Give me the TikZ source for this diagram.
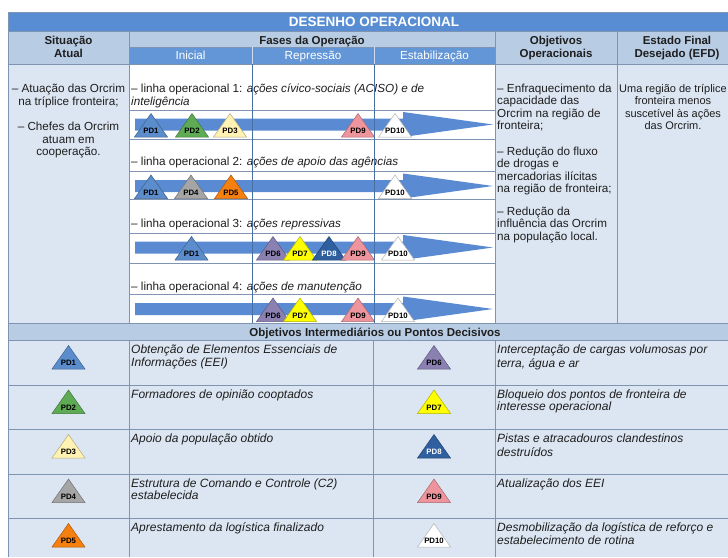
\documentclass[tikz,border=0pt]{standalone}
\usepackage{fontspec}
\setmainfont{Liberation Sans}
\definecolor{titleblue}{HTML}{588DD4}
\definecolor{phaseblue}{HTML}{6396D7}
\definecolor{headblue}{HTML}{B8CCE4}
\definecolor{bodyblue}{HTML}{DCE6F2}
\definecolor{gridc}{HTML}{7F93B3}
\definecolor{barblue}{HTML}{5A8BD2}
\definecolor{textc}{HTML}{1E1E1E}
\definecolor{pdA}{HTML}{5B8CCB}
\definecolor{pdB}{HTML}{5EAA55}
\definecolor{pdC}{HTML}{FFF2B3}
\definecolor{pdD}{HTML}{A5A5A5}
\definecolor{pdE}{HTML}{F57F0F}
\definecolor{pdF}{HTML}{8A80B2}
\definecolor{pdG}{HTML}{FFFF00}
\definecolor{pdH}{HTML}{2F5F9F}
\definecolor{pdI}{HTML}{ED949D}
\definecolor{pdJ}{HTML}{FFFFFF}
% #1 name, #2 x of apex, #3 y of base, #4 fill colour, #5 label, #6 label colour
\newcommand\pdmark[6]{%
  \draw[fill=#4, draw=#4!70!black, line width=0.5pt] (#2-16.5,#3) -- (#2,#3-23.5) -- (#2+16.5,#3) -- cycle;
  \node[pdlabel, text=#6] (#1) at (#2,#3-6) {#5};
}
% #1 centre y of bar
\newcommand\opbar[1]{%
  \fill[barblue] (135,#1-6) -- (403,#1-6) -- (403,#1-12.5) -- (493,#1) -- (403,#1+12.5) -- (403,#1+6) -- (135,#1+6) -- cycle;
}
\begin{document}
\begin{tikzpicture}[x=1pt,y=-1pt,
  grid/.style={draw=gridc, line width=0.8pt},
  bt/.style={font=\fontsize{11.7}{12.5}\selectfont, text=textc, inner sep=0pt},
  it/.style={font=\fontsize{12}{12.5}\selectfont\itshape, text=textc, inner sep=0pt},
  hd/.style={font=\bfseries\fontsize{11.5}{13}\selectfont, text=textc, inner sep=0pt, align=center},
  pdlabel/.style={font=\bfseries\fontsize{7.8}{8}\selectfont, inner sep=0pt},
]
\useasboundingbox (0,0) rectangle (728,557);
\clip (0,0) rectangle (728,557);
% backgrounds
\fill[titleblue] (8,12) rectangle (740,31);
\fill[headblue] (8,31) rectangle (740,64);
\fill[phaseblue] (129,47) rectangle (495,64);
\fill[bodyblue] (8,64) rectangle (129,323);
\fill[white] (129,64) rectangle (495,323);
\fill[bodyblue] (495,64) rectangle (740,323);
\fill[headblue] (8,323) rectangle (740,340);
\fill[bodyblue] (8,340) rectangle (740,557);
% grid
\draw[grid] (8,12) -- (740,12);
\draw[grid] (8,31) -- (740,31);
\draw[grid] (129,47) -- (495,47);
\draw[grid] (8,64) -- (740,64);
\foreach \yy in {110,139,171,199,233,263,294} \draw[grid] (129,\yy) -- (495,\yy);
\draw[grid] (8,323) -- (740,323);
\draw[grid] (8,340) -- (740,340);
\foreach \yy in {385,429.5,474,518.5} \draw[grid] (8,\yy) -- (740,\yy);
\draw[grid] (8,12) -- (8,557);
\draw[grid] (129,31) -- (129,323);
\draw[grid] (495,31) -- (495,323);
\draw[grid] (617,31) -- (617,323);
\draw[grid] (129,340) -- (129,557);
\draw[grid] (373,340) -- (373,557);
\draw[grid] (495,340) -- (495,557);
\draw[draw=headblue!70!white, line width=0.6pt] (252,47) -- (252,64) (374,47) -- (374,64);
% headers
\node[font=\bfseries\fontsize{13.5}{15}\selectfont, text=white, inner sep=0pt, anchor=base] (title) at (374,26.5) {DESENHO OPERACIONAL};
\node[hd, anchor=north] (hsit) at (68.5,44-9.1) {\strut Situação\\Atual};
\node[hd, anchor=base] (hfases) at (312,44) {Fases da Operação};
\node[hd, anchor=north] (hobj) at (556,44-9.1) {\strut Objetivos\\Operacionais};
\node[hd, anchor=north] (hefd) at (677,44-9.1) {\strut Estado Final\\Desejado (EFD)};
\node[bt, text=white, anchor=base] (ph1) at (190.5,59) {Inicial};
\node[bt, text=white, anchor=base] (ph2) at (313,59) {Repressão};
\node[bt, text=white, anchor=base] (ph3) at (434.5,59) {Estabilização};
% situacao atual
\node[bt, align=center, anchor=north] (sit1) at (68.5,92.5-8.75) {\strut – Atuação das Orcrim\\na tríplice fronteira;};
\node[bt, align=center, anchor=north] (sit2) at (68.5,130.5-8.75) {\strut – Chefes da Orcrim\\atuam em\\cooperação.};
% linhas operacionais
\node[bt, align=left, anchor=north west] (l1) at (131,92.5-8.75) {\strut – linha operacional 1: \textit{ações cívico-sociais (ACISO) e de}\\\textit{inteligência}};
\node[bt, anchor=base west] (l2) at (131,165) {– linha operacional 2: \textit{ações de apoio das agências}};
\node[bt, anchor=base west] (l3) at (131,227) {– linha operacional 3: \textit{ações repressivas}};
\node[bt, anchor=base west] (l4) at (131,290) {– linha operacional 4: \textit{ações de manutenção}};
% bars
\opbar{124.5}
\opbar{186}
\opbar{247.5}
\opbar{309}
% decisive points on the bars
\pdmark{a1}{151}{137}{pdA}{PD1}{black}
\pdmark{a2}{192}{137}{pdB}{PD2}{black}
\pdmark{a3}{230}{137}{pdC}{PD3}{black}
\pdmark{a9}{358}{137}{pdI}{PD9}{black}
\pdmark{a10}{395}{137}{pdJ}{PD10}{black}
\pdmark{b1}{151}{198.5}{pdA}{PD1}{black}
\pdmark{b4}{191}{198.5}{pdD}{PD4}{black}
\pdmark{b5}{231}{198.5}{pdE}{PD5}{black}
\pdmark{b10}{395}{198.5}{pdJ}{PD10}{black}
\pdmark{c1}{191.5}{260}{pdA}{PD1}{black}
\pdmark{c6}{273}{260}{pdF}{PD6}{black}
\pdmark{c7}{300}{260}{pdG}{PD7}{black}
\pdmark{c8}{329}{260}{pdH}{PD8}{white}
\pdmark{c9}{358}{260}{pdI}{PD9}{black}
\pdmark{c10}{398}{260}{pdJ}{PD10}{black}
\pdmark{d6}{273}{321.5}{pdF}{PD6}{black}
\pdmark{d7}{300}{321.5}{pdG}{PD7}{black}
\pdmark{d9}{358}{321.5}{pdI}{PD9}{black}
\pdmark{d10}{398}{321.5}{pdJ}{PD10}{black}
% phase separators over the bars
\draw[draw=pdA!80!black, line width=0.6pt] (252,64) -- (252,323) (374,64) -- (374,323);
% objetivos operacionais
\node[bt, align=left, anchor=north west] (o1) at (497,92-8.75) {\strut – Enfraquecimento da\\capacidade das\\Orcrim na região de\\fronteira;};
\node[bt, align=left, anchor=north west] (o2) at (497,155-8.75) {\strut – Redução do fluxo\\de drogas e\\mercadorias ilícitas\\na região de fronteira;};
\node[bt, align=left, anchor=north west] (o3) at (497,215-8.75) {\strut – Redução da\\influência das Orcrim\\na população local.};
% estado final
\node[bt, font=\fontsize{11}{12.5}\selectfont, align=center, anchor=north] (efd) at (673,92-8.75) {\strut Uma região de tríplice\\fronteira menos\\suscetível às ações\\das Orcrim.};
% legend header
\node[hd, anchor=base] (lh) at (375,336) {Objetivos Intermediários ou Pontos Decisivos};
% legend triangles
\pdmark{e1}{68.5}{369}{pdA}{PD1}{black}
\pdmark{e2}{68.5}{413.5}{pdB}{PD2}{black}
\pdmark{e3}{68.5}{458}{pdC}{PD3}{black}
\pdmark{e4}{68.5}{502.5}{pdD}{PD4}{black}
\pdmark{e5}{68.5}{547}{pdE}{PD5}{black}
\pdmark{e6}{434}{369}{pdF}{PD6}{black}
\pdmark{e7}{434}{413.5}{pdG}{PD7}{black}
\pdmark{e8}{434}{458}{pdH}{PD8}{white}
\pdmark{e9}{434}{502.5}{pdI}{PD9}{black}
\pdmark{e10}{434}{547}{pdJ}{PD10}{black}
% legend texts
\node[it, align=left, anchor=north west] (t1) at (131,353.5-8.75) {\strut Obtenção de Elementos Essenciais de\\Informações (EEI)};
\node[it, align=left, anchor=north west] (t2) at (131,398-8.75) {\strut Formadores de opinião cooptados};
\node[it, align=left, anchor=north west] (t3) at (131,442.5-8.75) {\strut Apoio da população obtido};
\node[it, align=left, anchor=north west] (t4) at (131,487-8.75) {\strut Estrutura de Comando e Controle (C2)\\estabelecida};
\node[it, align=left, anchor=north west] (t5) at (131,531.5-8.75) {\strut Aprestamento da logística finalizado};
\node[it, align=left, anchor=north west] (t6) at (497,353.5-8.75) {\strut Interceptação de cargas volumosas por\\terra, água e ar};
\node[it, align=left, anchor=north west] (t7) at (497,398-8.75) {\strut Bloqueio dos pontos de fronteira de\\interesse operacional};
\node[it, align=left, anchor=north west] (t8) at (497,442.5-8.75) {\strut Pistas e atracadouros clandestinos\\destruídos};
\node[it, align=left, anchor=north west] (t9) at (497,487-8.75) {\strut Atualização dos EEI};
\node[it, align=left, anchor=north west] (t10) at (497,531.5-8.75) {\strut Desmobilização da logística de reforço e\\estabelecimento de rotina};
\end{tikzpicture}
\end{document}
